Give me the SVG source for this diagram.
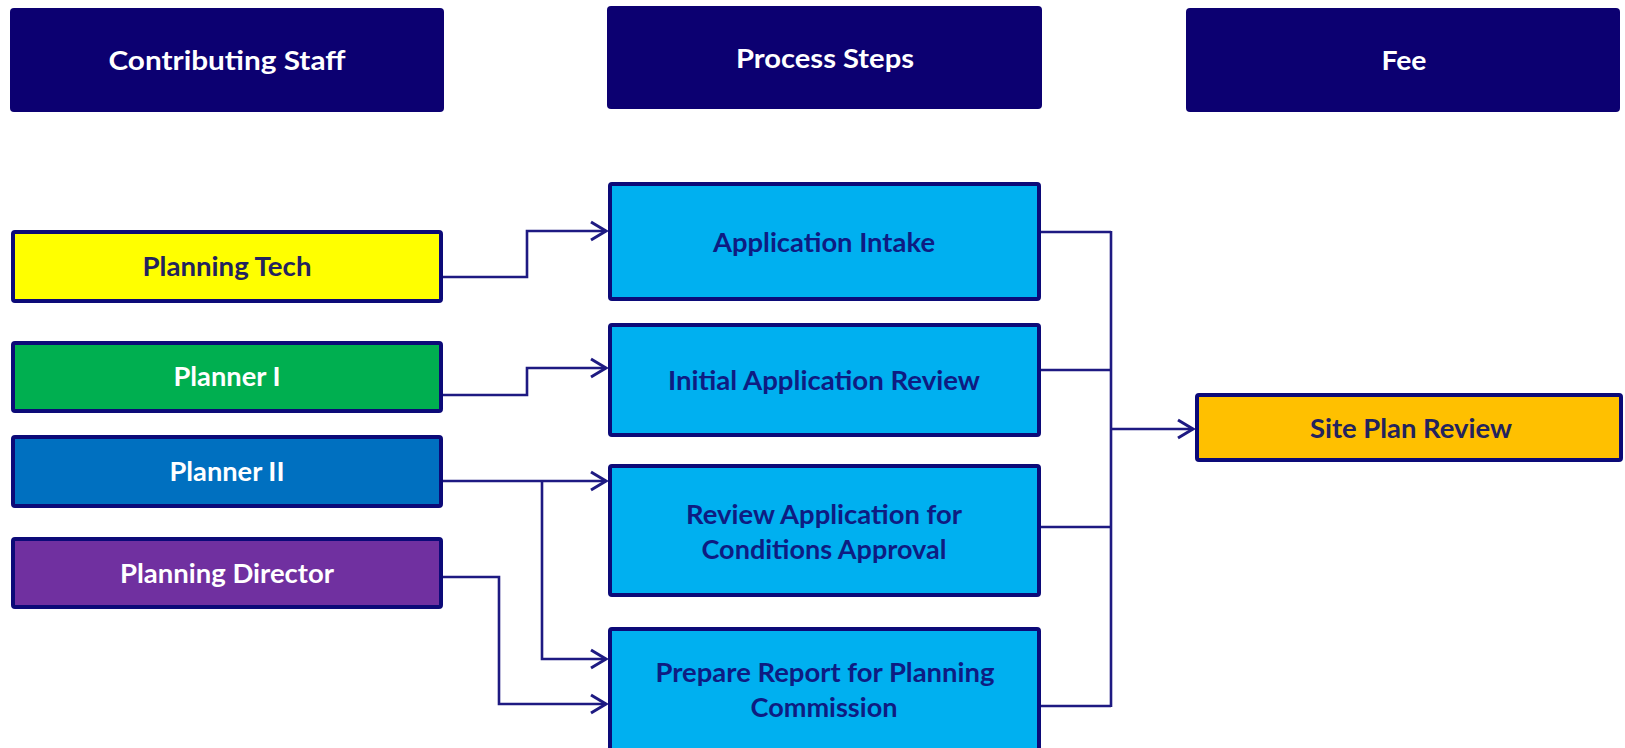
<svg xmlns="http://www.w3.org/2000/svg" width="1625" height="748" viewBox="0 0 1625 748">
<style>
.hdr{fill:#0C0071;}
.box{stroke:#0C0A78;stroke-width:4;}
.t{font-family:Lato,"Liberation Sans",sans-serif;font-weight:bold;font-size:26px;text-anchor:middle;}
.w{fill:#FFFFFF;}
.d{fill:#23235E;}
.p{fill:#0E1C82;}
.c{fill:none;stroke:#1E1A82;stroke-width:2.6;}
</style>
<defs>
<marker id="arr" markerUnits="userSpaceOnUse" markerWidth="24" markerHeight="24" viewBox="-20 -12 24 24" refX="0" refY="0" orient="auto">
<path d="M-15,-9 L0,0 L-15,9" fill="none" stroke="#1E1A82" stroke-width="3"/>
</marker>
</defs>
<rect width="1625" height="748" fill="#FFFFFF"/>
<g id="hdr-staff"><rect class="hdr" x="10" y="8" width="434" height="104" rx="4"/><text class="t w" x="227" y="70" textLength="237" lengthAdjust="spacingAndGlyphs">Contributing Staff</text></g>
<g id="hdr-steps"><rect class="hdr" x="607" y="6" width="435" height="103" rx="4"/><text class="t w" x="825" y="68" textLength="178" lengthAdjust="spacingAndGlyphs">Process Steps</text></g>
<g id="hdr-fee"><rect class="hdr" x="1186" y="8" width="434" height="104" rx="4"/><text class="t w" x="1404" y="70" textLength="45" lengthAdjust="spacingAndGlyphs">Fee</text></g>
<g id="planning-tech"><rect class="box" x="13" y="232" width="428" height="69" rx="2" fill="#FFFF00"/><text class="t d" x="227" y="276" textLength="169" lengthAdjust="spacingAndGlyphs">Planning Tech</text></g>
<g id="planner-1"><rect class="box" x="13" y="343" width="428" height="68" rx="2" fill="#00AF50"/><text class="t w" x="227" y="386" textLength="107" lengthAdjust="spacingAndGlyphs">Planner I</text></g>
<g id="planner-2"><rect class="box" x="13" y="437" width="428" height="69" rx="2" fill="#0070C0"/><text class="t w" x="227" y="481" textLength="115" lengthAdjust="spacingAndGlyphs">Planner II</text></g>
<g id="planning-director"><rect class="box" x="13" y="539" width="428" height="68" rx="2" fill="#7030A0"/><text class="t w" x="227" y="583" textLength="214" lengthAdjust="spacingAndGlyphs">Planning Director</text></g>
<g id="application-intake"><rect class="box" x="610" y="184" width="429" height="115" rx="2" fill="#00B0F0"/><text class="t p" x="824" y="252" textLength="222" lengthAdjust="spacingAndGlyphs">Application Intake</text></g>
<g id="initial-review"><rect class="box" x="610" y="325" width="429" height="110" rx="2" fill="#00B0F0"/><text class="t p" x="824" y="390" textLength="312" lengthAdjust="spacingAndGlyphs">Initial Application Review</text></g>
<g id="conditions-approval"><rect class="box" x="610" y="466" width="429" height="129" rx="2" fill="#00B0F0"/><text class="t p" x="824" y="524" textLength="276" lengthAdjust="spacingAndGlyphs">Review Application for</text><text class="t p" x="824" y="559" textLength="245" lengthAdjust="spacingAndGlyphs">Conditions Approval</text></g>
<g id="prepare-report"><rect class="box" x="610" y="629" width="429" height="140" rx="2" fill="#00B0F0"/><text class="t p" x="825" y="682" textLength="339" lengthAdjust="spacingAndGlyphs">Prepare Report for Planning</text><text class="t p" x="824" y="717" textLength="147" lengthAdjust="spacingAndGlyphs">Commission</text></g>
<g id="site-plan-review"><rect class="box" x="1197" y="395" width="424" height="65" rx="2" fill="#FFC000"/><text class="t d" x="1411" y="438" textLength="202" lengthAdjust="spacingAndGlyphs">Site Plan Review</text></g>
<g id="connectors">
<path class="c" d="M443,277 H527 V231 H606" marker-end="url(#arr)"/>
<path class="c" d="M443,395 H527 V368 H606" marker-end="url(#arr)"/>
<path class="c" d="M443,481 H606" marker-end="url(#arr)"/>
<path class="c" d="M542,481 V659 H606" marker-end="url(#arr)"/>
<path class="c" d="M443,577 H499 V704 H606" marker-end="url(#arr)"/>
<path class="c" d="M1041,232 H1111"/>
<path class="c" d="M1041,370 H1111"/>
<path class="c" d="M1041,527 H1111"/>
<path class="c" d="M1041,706 H1111"/>
<path class="c" d="M1111,231 V707"/>
<path class="c" d="M1111,429 H1193" marker-end="url(#arr)"/>
</g>
</svg>
